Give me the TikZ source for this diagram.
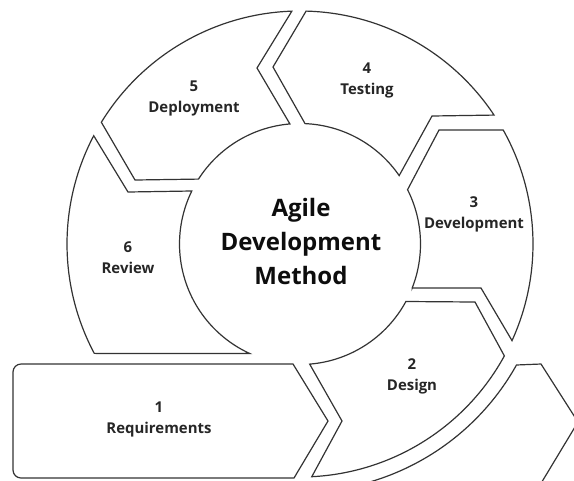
\documentclass[tikz,border=0pt]{standalone}
\usepackage{fontspec}
\setmainfont{Open Sans}
\begin{document}
\begin{tikzpicture}[x=0.75pt,y=-0.75pt,
  seg/.style={draw=black!80, line width=0.9pt, fill=white, line join=miter},
  lbl/.style={font=\bfseries\fontsize{11.2}{15.75}\selectfont, align=center, text=black!85, inner sep=0pt},
  ttl/.style={font=\bfseries\fontsize{18}{25.5}\selectfont, align=center, text=black!95, inner sep=0pt}]
\useasboundingbox (0,0) rectangle (574,480);
\clip (0,0) rectangle (574,480);
\coordinate (C) at (300,244);
\def\ri{120.5}
\def\ro{233}

% 1 Requirements: box with rounded left corners and a chevron on the right
\draw[seg] (200,478) [rounded corners=6] -- (13,478) -- (13,364) -- (200,364)
  [sharp corners] -- (293,364) -- (328,421) -- (294,478) -- cycle;

% 2 Design
\draw[seg] ([shift={(85.4:\ri)}]C) -- (342,421) -- ([shift={(87.1:\ro)}]C)
  arc[start angle=87.1, end angle=28.7, radius=\ro] -- (475,302)
  -- ([shift={(28.5:\ri)}]C) arc[start angle=28.5, end angle=85.4, radius=\ri] -- cycle;

% 3 Development
\draw[seg] ([shift={(21.4:\ri)}]C) -- (481,288) -- ([shift={(24.5:\ro)}]C)
  arc[start angle=24.5, end angle=-29.3, radius=\ro] -- (439,130)
  -- ([shift={(-26.8:\ri)}]C) arc[start angle=-26.8, end angle=21.4, radius=\ri] -- cycle;

% 4 Testing
\draw[seg] ([shift={(-33.6:\ro)}]C) -- (432,116) -- ([shift={(-34.6:\ri)}]C)
  arc[start angle=-34.6, end angle=-87.6, radius=\ri] -- (273,67)
  -- ([shift={(-88.5:\ro)}]C) arc[start angle=-88.5, end angle=-33.6, radius=\ro] -- cycle;

% 5 Deployment
\draw[seg] ([shift={(-92:\ro)}]C) -- (257,68) -- ([shift={(-94.8:\ri)}]C)
  arc[start angle=-94.8, end angle=-147.4, radius=\ri] -- (135,180)
  -- ([shift={(-148.5:\ro)}]C) arc[start angle=-148.5, end angle=-92, radius=\ro] -- cycle;

% 6 Review
\draw[seg] ([shift={(-152.3:\ro)}]C) -- (128,192) -- ([shift={(-153.9:\ri)}]C)
  arc[start angle=-153.9, end angle=-245.4, radius=\ri]
  -- ([shift={(-208:\ro)}]C) arc[start angle=-208, end angle=-152.3, radius=\ro] -- cycle;

% next band, partly outside the frame
\draw[seg, fill=none] ([shift={(80:248)}]C) arc[start angle=80, end angle=29.2, radius=248]
  -- (541,364) -- (578,422) -- (540,485);

% labels
\node[ttl] (title) at (301,241) {Agile\\Development\\Method};
\node[lbl] (s1) at (159,419) {1\\Requirements};
\node[lbl] (s2) at (412,376) {2\\Design};
\node[lbl] (s3) at (474,214) {3\\Development};
\node[lbl] (s4) at (367,80) {4\\Testing};
\node[lbl] (s5) at (194,98) {5\\Deployment};
\node[lbl] (s6) at (128,258) {6\\Review};
\end{tikzpicture}
\end{document}
